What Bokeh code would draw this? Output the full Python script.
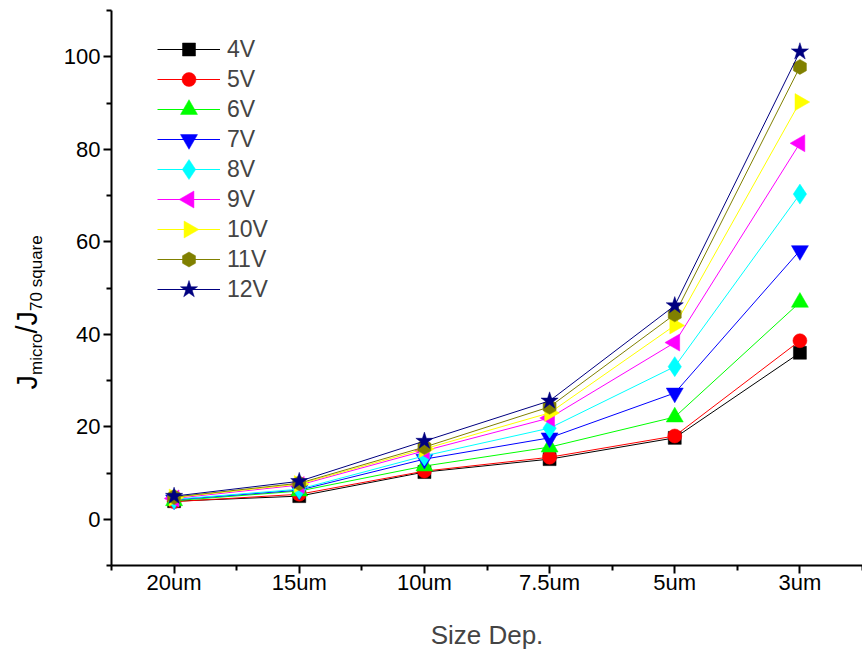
import math
from bokeh.plotting import figure
from bokeh.layouts import row
from bokeh.models import FixedTicker, Legend, LegendItem, Range1d
from bokeh.core.properties import value
from bokeh.embed import file_html
from bokeh.resources import INLINE

# ---- data ----
sizes = ["20um", "15um", "10um", "7.5um", "5um", "3um"]
xpos = [1, 2, 3, 4, 5, 6]
v4 = [3.9, 5.0, 10.2, 13.0, 17.6, 36.0]
v5 = [3.8, 5.4, 10.4, 13.4, 18.0, 38.6]
v6 = [4.0, 6.1, 11.5, 15.6, 22.1, 46.9]
v7 = [4.2, 6.3, 13.0, 17.6, 27.3, 58.1]
v8 = [4.3, 6.5, 13.7, 19.7, 33.0, 70.3]
v9 = [4.5, 7.4, 14.8, 21.9, 38.2, 81.3]
v10 = [4.7, 7.6, 15.2, 23.0, 41.9, 90.2]
v11 = [4.8, 7.8, 15.6, 24.3, 44.3, 97.8]
v12 = [5.0, 8.2, 16.9, 25.6, 46.2, 101.1]
series_names = ["4V", "5V", "6V", "7V", "8V", "9V", "10V", "11V", "12V"]
series_values = [v4, v5, v6, v7, v8, v9, v10, v11, v12]

# ---- styles ----
FONT = "Liberation Sans"
styles = [
    dict(color="#000000", marker="square", size=13, angle=0.0),
    dict(color="#FF0000", marker="circle", size=14, angle=0.0),
    dict(color="#00FF00", marker="triangle", size=17, angle=0.0),
    dict(color="#0000FF", marker="inverted_triangle", size=17, angle=0.0),
    dict(color="#00FFFF", marker="diamond", size=20, angle=0.0),
    dict(color="#FF00FF", marker="triangle", size=17, angle=math.pi / 2),
    dict(color="#FFFF00", marker="triangle", size=17, angle=-math.pi / 2),
    dict(color="#808000", marker="hex", size=15, angle=math.pi / 6),
    dict(color="#000080", marker="star", size=18, angle=0.0),
]

W, H = 862, 658
WL = 56                      # width of the strip holding the y-axis title
LEFT, RIGHT, TOP, BOTTOM = 111, 0, 10, 93
XMIN, XMAX, YMIN, YMAX = 0.5, 6.5, -10, 110
FW, FH = W - LEFT - RIGHT, H - TOP - BOTTOM


def cx2data(px):
    return XMIN + (px - LEFT) / FW * (XMAX - XMIN)


def cy2data(py):
    return YMIN + ((H - BOTTOM) - py) / FH * (YMAX - YMIN)


p = figure(width=W - WL, height=H, output_backend="svg", toolbar_location=None,
           x_range=Range1d(XMIN, XMAX), y_range=Range1d(YMIN, YMAX),
           min_border_left=LEFT - WL, min_border_right=RIGHT,
           min_border_top=TOP, min_border_bottom=BOTTOM)
p.outline_line_color = None
p.grid.visible = False
p.background_fill_color = "white"
p.border_fill_color = "white"

items = []
for name, vals, st in zip(series_names, series_values, styles):
    ln = p.line(xpos, vals, line_color=st["color"], line_width=1)
    p.scatter(xpos, vals, marker=st["marker"], size=st["size"], angle=st["angle"],
              fill_color=st["color"], line_color=st["color"], line_width=0.5)
    items.append(LegendItem(label=name, renderers=[ln]))

# legend: lines + text from Bokeh's Legend, markers overlaid on top
LEG_X, LEG_TOP, ROW, GW = 157, 34, 30, 63
legend = Legend(items=items, location=(LEG_X - LEFT, FH - (LEG_TOP - TOP) - ROW * len(items)),
                glyph_width=GW, glyph_height=ROW, label_height=ROW, spacing=0,
                padding=0, margin=0, label_standoff=7,
                label_text_font=FONT, label_text_font_size="23px",
                border_line_color=None, background_fill_alpha=0)
p.add_layout(legend)
for i, st in enumerate(styles):
    p.scatter([cx2data(LEG_X + GW / 2)], [cy2data(LEG_TOP + ROW / 2 + ROW * i)],
              marker=st["marker"], size=st["size"], angle=st["angle"],
              fill_color=st["color"], line_color=st["color"], line_width=0.5,
              level="overlay")

# axes
xa = p.xaxis[0]
xa.ticker = FixedTicker(ticks=xpos, minor_ticks=[0.5, 1.5, 2.5, 3.5, 4.5, 5.5, 6.5])
xa.major_label_overrides = {x: s for x, s in zip(xpos, sizes)}
ya = p.yaxis[0]
ya.ticker = FixedTicker(ticks=[0, 20, 40, 60, 80, 100],
                        minor_ticks=[-10, 10, 30, 50, 70, 90, 110])
for ax in (xa, ya):
    ax.axis_line_width = 2
    ax.axis_line_color = "black"
    ax.major_tick_line_width = 2
    ax.minor_tick_line_width = 2
    ax.major_tick_in = 0
    ax.major_tick_out = 8
    ax.minor_tick_in = 0
    ax.minor_tick_out = 5
    ax.major_label_text_font = FONT
    ax.major_label_text_font_size = "22px"
    ax.major_label_text_color = "black"
ya.major_label_standoff = 3
xa.major_label_standoff = -4
xa.axis_label = "Size Dep."
xa.axis_label_text_font = FONT
xa.axis_label_text_font_size = "26px"
xa.axis_label_text_font_style = "normal"
xa.axis_label_standoff = 22

# ---- y-axis title strip: J_micro / J_70 square, rotated ----
t = figure(frame_width=WL, frame_height=H, output_backend="svg", toolbar_location=None,
           title=None, x_range=Range1d(0, WL), y_range=Range1d(0, H),
           x_axis_location=None, y_axis_location=None,
           min_border=0, min_border_left=0, min_border_right=0,
           min_border_top=0, min_border_bottom=0)
t.grid.visible = False
t.outline_line_color = None
t.background_fill_color = "white"
t.border_fill_color = "white"

widths = {"J": .5, "m": .833, "i": .222, "c": .5, "r": .333, "o": .556, "/": .278,
          "7": .556, "0": .556, " ": .278, "s": .5, "q": .556, "u": .556, "a": .556,
          "e": .556}
F_MAIN, F_SUB = 29, 17
pieces = [("J", F_MAIN, 0), ("micro", F_SUB, 1), ("/J", F_MAIN, 0), ("70 square", F_SUB, 1)]
base_x_main, base_x_sub = 26, 36   # px from left
cy = 379                           # px from top (start, bottom of text)
for txt, fs, sub in pieces:
    bx = base_x_sub if sub else base_x_main
    t.text(x=[bx], y=[H - cy], text=[txt], angle=math.pi / 2,
           text_align="left", text_baseline="alphabetic",
           text_font=value(FONT), text_font_size=value(f"{fs}px"), text_color="black")
    cy -= sum(widths[c] for c in txt) * fs

layout = row(t, p, spacing=0)
open("out.html", "w").write(file_html(layout, INLINE))
